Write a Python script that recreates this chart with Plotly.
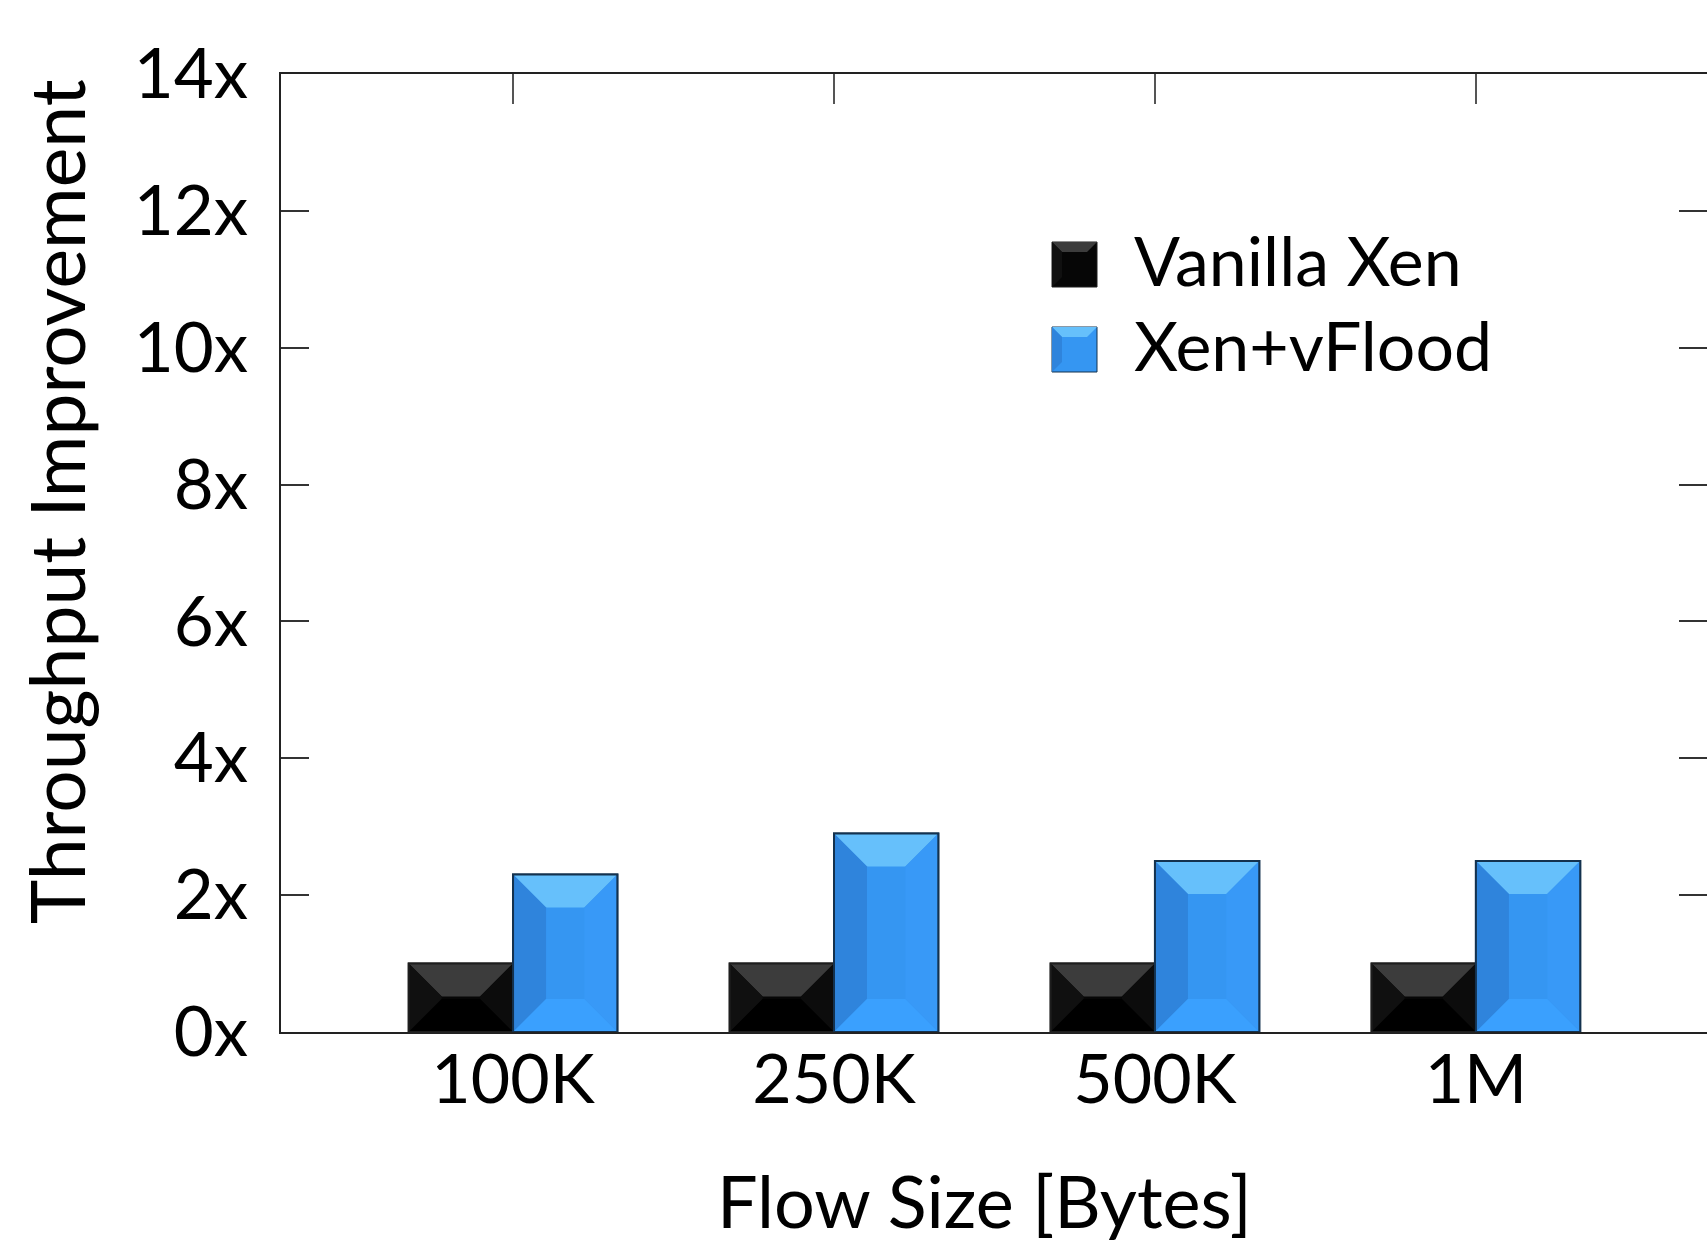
import plotly.graph_objects as go

# Throughput improvement by flow size
flow_sizes = ["100K", "250K", "500K", "1M"]
vanilla_xen = [1.0, 1.0, 1.0, 1.0]
xen_vflood = [2.3, 2.9, 2.5, 2.5]
y_ticks = [0, 2, 4, 6, 8, 10, 12, 14]
y_tick_labels = [f"{v}x" for v in y_ticks]
series_names = ["Vanilla Xen", "Xen+vFlood"]

FONT = "Lato"
W, H = 1707, 1245
ML, MR, MT, MB = 281, 0, 74, 213
PW, PH = W - ML - MR, H - MT - MB

BAR_W = 0.325
X_RANGE = [-0.723, 3.72]
Y_RANGE = [0, 14]

styles = {
    "Vanilla Xen": dict(fill="#060606", line="#1e1e1e",
                        top="#3c3c3c", left="#101010", right="#0c0c0c", bottom="#000000"),
    "Xen+vFlood": dict(fill="#3596f2", line="#14324f",
                       top="#66c0fb", left="#2f84dc", right="#3899f7", bottom="#3aa0fe"),
}

fig = go.Figure()
offsets = [-BAR_W, 0.0]
x_idx = list(range(len(flow_sizes)))
for name, vals, off in zip(series_names, [vanilla_xen, xen_vflood], offsets):
    st = styles[name]
    fig.add_trace(go.Bar(
        x=x_idx, y=vals, name=name, width=BAR_W, offset=off,
        marker=dict(color=st["fill"], line=dict(color=st["line"], width=2)),
        showlegend=False,
    ))

# bevel facets on each bar (45-degree edges, ~33 px deep)
bx = 33 / (PW / (X_RANGE[1] - X_RANGE[0]))
by = 33 / (PH / (Y_RANGE[1] - Y_RANGE[0]))
shapes = []
for name, vals, off in zip(series_names, [vanilla_xen, xen_vflood], offsets):
    st = styles[name]
    for i, v in zip(x_idx, vals):
        x0, x1 = i + off, i + off + BAR_W
        y0, y1 = 0, v
        dy = min(by, v / 2)
        dx = dy * bx / by
        xi0, xi1, yi0, yi1 = x0 + dx, x1 - dx, y0 + dy, y1 - dy
        facets = [
            ([(x0, y1), (x1, y1), (xi1, yi1), (xi0, yi1)], st["top"]),
            ([(x0, y0), (x0, y1), (xi0, yi1), (xi0, yi0)], st["left"]),
            ([(x1, y0), (x1, y1), (xi1, yi1), (xi1, yi0)], st["right"]),
            ([(x0, y0), (x1, y0), (xi1, yi0), (xi0, yi0)], st["bottom"]),
        ]
        for pts, col in facets:
            path = "M " + " L ".join(f"{px},{py}" for px, py in pts) + " Z"
            shapes.append(dict(type="path", path=path, xref="x", yref="y",
                               fillcolor=col, line=dict(width=0), layer="above"))
        shapes.append(dict(type="rect", x0=x0, x1=x1, y0=y0, y1=y1, xref="x", yref="y",
                           fillcolor="rgba(0,0,0,0)", line=dict(color=st["line"], width=2),
                           layer="above"))


# legend drawn in pixel space
def px_x(p):
    return (p - ML) / PW


def px_y(p):
    return (H - MB - p) / PH


annotations = []
legend_rows = [(242, 287), (327, 372)]
for name, (top, bot) in zip(series_names, legend_rows):
    st = styles[name]
    x0, x1 = 1052, 1097
    d = 10
    shapes.append(dict(type="rect", xref="paper", yref="paper",
                       x0=px_x(x0), x1=px_x(x1), y0=px_y(bot), y1=px_y(top),
                       fillcolor=st["fill"], line=dict(color=st["line"], width=1)))
    for pts, col in [
        ([(x0, top), (x1, top), (x1 - d, top + d), (x0 + d, top + d)], st["top"]),
        ([(x0, top), (x0 + d, top + d), (x0 + d, bot - d), (x0, bot)], st["left"]),
    ]:
        path = "M " + " L ".join(f"{px_x(a)},{px_y(b)}" for a, b in pts) + " Z"
        shapes.append(dict(type="path", path=path, xref="paper", yref="paper",
                           fillcolor=col, line=dict(width=0)))
    annotations.append(dict(text=name, xref="paper", yref="paper",
                            x=px_x(1132), y=px_y((top + bot) / 2 - 5),
                            xanchor="left", yanchor="middle", showarrow=False,
                            font=dict(family=FONT, size=68, color="black")))

# axis titles
annotations.append(dict(text="Throughput Improvement", xref="paper", yref="paper",
                        x=px_x(56), y=px_y(502), textangle=-90,
                        xanchor="center", yanchor="middle", showarrow=False,
                        font=dict(family=FONT, size=75, color="black")))
annotations.append(dict(text="Flow Size [Bytes]", xref="paper", yref="paper",
                        x=px_x(984), y=px_y(1200), xanchor="center", yanchor="middle",
                        showarrow=False, font=dict(family=FONT, size=72, color="black")))

fig.update_layout(
    width=W, height=H,
    margin=dict(l=ML, r=MR, t=MT, b=MB, autoexpand=False),
    paper_bgcolor="white", plot_bgcolor="white",
    barmode="overlay",
    shapes=shapes, annotations=annotations,
    xaxis=dict(
        range=X_RANGE, tickmode="array", tickvals=x_idx, ticktext=flow_sizes,
        ticks="inside", ticklen=30, tickwidth=2, tickcolor="#555555",
        showline=True, linecolor="#222222", linewidth=2, mirror="allticks",
        showgrid=False, zeroline=False, layer="below traces",
        tickfont=dict(family=FONT, size=68, color="black"), ticklabelstandoff=-13,
    ),
    yaxis=dict(
        range=Y_RANGE, tickmode="array", tickvals=y_ticks, ticktext=y_tick_labels,
        ticks="inside", ticklen=28, tickwidth=2, tickcolor="#333333",
        showline=True, linecolor="#222222", linewidth=2, mirror="allticks",
        showgrid=False, zeroline=False,
        tickfont=dict(family=FONT, size=69, color="black"), ticklabelstandoff=17,
    ),
)

fig.write_html("out.html")
